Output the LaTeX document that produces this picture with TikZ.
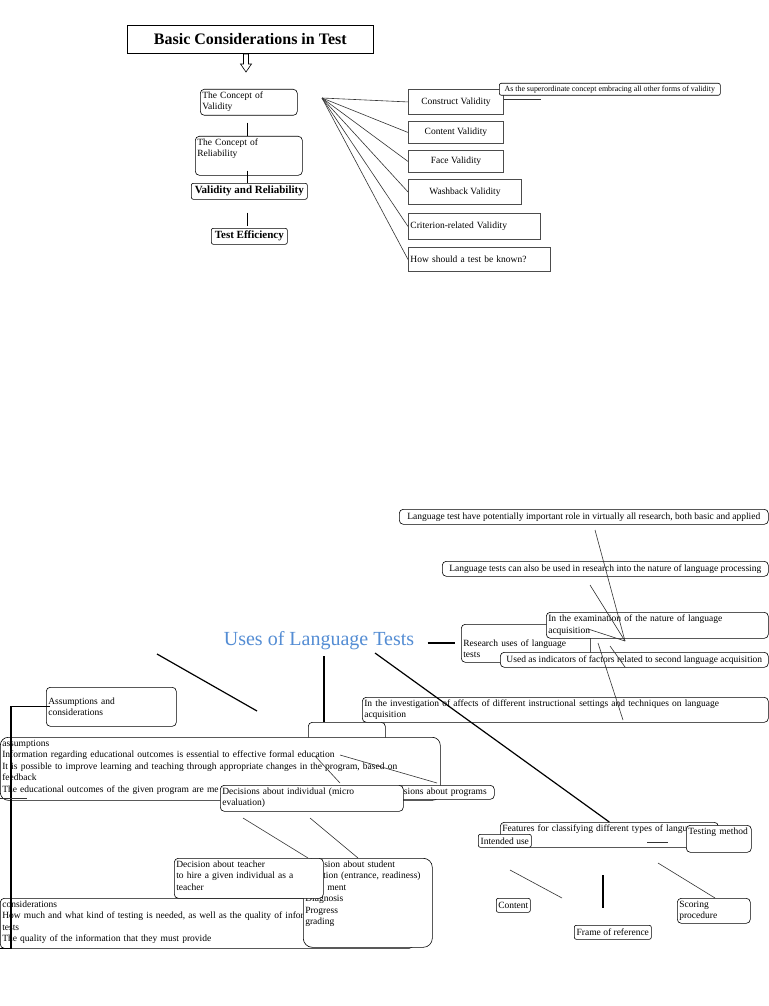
\documentclass[tikz,border=0pt]{standalone}
\usepackage{fontspec}
\setmainfont{Liberation Serif}
\usetikzlibrary{positioning}
\definecolor{usesblue}{RGB}{84,141,212}

\begin{document}
\begin{tikzpicture}[
    x=1pt, y=-1pt,
    every node/.style={font=\fontsize{9.5}{11.5}\selectfont},
    box/.style={draw, fill=white, inner sep=2pt, anchor=north west,
                align=left, line width=0.6pt},
    rbox/.style={box, rounded corners=4pt},
    vbox/.style={box, draw=black!70, line width=0.9pt, align=center},
    bbox/.style={rbox, rounded corners=2pt, inner sep=1pt, align=center,
                 font=\bfseries\fontsize{11}{13}\selectfont},
    topalign/.style={text height=7pt, text depth=#1},
    link/.style={line width=0.6pt, draw=black!80},
    heavy/.style={line width=1.2pt},
]
\path[use as bounding box, fill=white] (0,0) rectangle (768,1006);

% basic considerations
\node[box, minimum width=246pt, minimum height=28pt,
      font=\bfseries\fontsize{16}{18}\selectfont] (title) at (127,25) {Basic Considerations in Test};
\coordinate (arrtop) at (246,54);
\draw[line width=0.6pt] (arrtop) ++(-2.5,0) -- ++(0,10) -- ++(-3,0) -- ++(5.5,8)
    -- ++(5.5,-8) -- ++(-3,0) -- ++(0,-10) -- cycle;

\node[rbox, text width=93pt, topalign=15pt] (validity) at (200,89) {The Concept of\\Validity};
\node[rbox, text width=103pt, topalign=28pt] (reliab) at (195,136) {The Concept of\\Reliability};
\node[bbox, minimum width=116pt, minimum height=16pt] (vr) at (191,183) {Validity and Reliability};
\node[bbox, minimum width=76pt, minimum height=16pt] (eff) at (211,228) {Test Efficiency};

\draw[heavy] ([xshift=-1.5pt, yshift=-7pt]validity.south) -- ([xshift=-1.5pt]reliab.north);
\draw[heavy] ([xshift=-1.5pt, yshift=5pt]reliab.south) -- ([xshift=-2pt]vr.north);
\draw[heavy] ([xshift=-2pt, yshift=-13pt]vr.south) -- ([xshift=-2pt, yshift=2pt]eff.north);

% forms of validity
\coordinate (fan) at (322,98);
\node[vbox, minimum width=95pt, minimum height=25pt] (cv) at (408,89) {Construct Validity};
\node[vbox, minimum width=95pt, minimum height=22pt] (cnt) at (408,121) {Content Validity};
\node[vbox, minimum width=95pt, minimum height=22pt] (face) at (408,150) {Face Validity};
\node[vbox, minimum width=113pt, minimum height=25pt] (wash) at (408,179) {Washback Validity};
\node[vbox, align=left, text width=128pt, minimum height=26pt] (crit) at (408,213) {Criterion-related Validity};
\node[vbox, align=left, text width=138pt, minimum height=24pt] (how) at (408,247) {How should a test be known?};
\node[rbox, rounded corners=2pt, inner sep=1pt, minimum width=221pt, minimum height=12pt,
      font=\fontsize{7.9}{9}\selectfont] (super) at (499,83) {As the superordinate concept embracing all other forms of validity};

\foreach \v in {cv, cnt, face, wash, crit, how}
    \draw[link] (fan) -- (\v.west);
\draw[link] ([yshift=3pt]cv.east) -- ++(37,0);

% research uses
\node[rbox, minimum width=369pt, minimum height=15pt] (lt1) at (399,509)
    {Language test have potentially important role in virtually all research, both basic and applied};
\node[rbox, minimum width=326pt, minimum height=15pt] (lt2) at (442,561)
    {Language tests can also be used in research into the nature of language processing};
\node[rbox, text width=125pt, text height=20pt, text depth=14pt] (research) at (461,624) {Research uses of language\\tests};
\node[rbox, text width=218pt, minimum height=26pt] (exam) at (546,612)
    {In the examination of the nature of language\\acquisition};
\node[rbox, minimum width=268pt, minimum height=15pt] (used) at (500,652)
    {Used as indicators of factors related to second language acquisition};
\node[rbox, text width=402pt, minimum height=25pt] (invest) at (362,697)
    {In the investigation of affects of different instructional settings and techniques on language\\acquisition};

\node[text=usesblue, font=\fontsize{20}{22}\selectfont] (uses) at (319,641) {Uses of Language Tests};
\draw[heavy] ([xshift=10pt]uses.east |- 0,643) -- ([xshift=-6pt]research.west |- 0,643);

\coordinate (hub) at (625,641);
\coordinate (r1) at (595,530);
\coordinate (r2) at (590,585);
\coordinate (r3) at (588,629);
\coordinate (r4a) at (610,646);
\coordinate (r4b) at (625,667);
\coordinate (r5a) at (598,643);
\coordinate (r5b) at (623,720);
\foreach \p in {r1, r2, r3}
    \draw[link] (\p) -- (hub);
\draw[link] (r4a) -- (r4b);
\draw[link] (r5a) -- (r5b);

% evaluation
\node[rbox, text width=73pt, minimum height=40pt] (hidden) at (308,722) {};
\coordinate (vtop) at (324,656);
\draw[heavy] (vtop) -- (vtop |- hidden.north);
\coordinate (u1) at (157,654);
\coordinate (u2) at (257,711);
\draw[heavy] (u1) -- (u2);

\node[rbox, text width=126pt, minimum height=39pt] (ac) at (46,687) {Assumptions and\\considerations};
\node[rbox, rounded corners=8pt, text width=436pt, topalign=52pt] (bigA) at (0,737)
    {assumptions\\
     Information regarding educational outcomes is essential to effective formal education\\
     It is possible to improve learning and teaching through appropriate changes in the program, based on\\
     feedback\\
     The educational outcomes of the given program are me};
\node[rbox, text width=94pt, minimum height=14pt, inner sep=2pt] (prog) at (396,785) {\hspace*{3pt}isions about programs};
\node[rbox, text width=179pt, topalign=15pt] (indiv) at (220,785) {Decisions about individual (micro\\evaluation)};

\coordinate (a1) at (315,756);
\coordinate (a2) at (340,783);
\coordinate (a3) at (340,755);
\coordinate (a4) at (437,783);
\draw[link] (a1) -- (a2);
\draw[link] (a3) -- (a4);

\node[rbox, text width=409pt, topalign=39pt] (cons) at (0,898)
    {considerations\\
     How much and what kind of testing is needed, as well as the quality of infor\\
     tests\\
     The quality of the information that they must provide};
\node[rbox, rounded corners=9pt, text width=125pt, topalign=78pt] (student) at (303,858)
    {\hspace*{19pt}sion about student\\
     \hspace*{18pt}tion (entrance, readiness)\\
     \hspace*{22pt}ment\\
     Diagnosis\\
     Progress\\
     grading};
\node[rbox, text width=145pt, topalign=29pt] (teacher) at (174,858)
    {Decision about teacher\\to hire a given individual as a\\teacher};

\coordinate (d1) at (243,818);
\coordinate (d2) at (308,858);
\coordinate (d3) at (310,818);
\coordinate (d4) at (358,858);
\draw[link] (d1) -- (d2);
\draw[link] (d3) -- (d4);

\draw[heavy] ([xshift=4pt]ac.west) -| ([xshift=11pt]cons.south west) -- (cons.south west);
\draw[link] ([yshift=2pt]bigA.south west) -- ++(27,0);

% classifying features
\coordinate (diag) at (375,653);
\node[rbox, text width=214pt, topalign=14pt] (feat) at (500,822) {Features for classifying different types of langu};
\draw[heavy] (diag) -- (feat.north);
\node[rbox, rounded corners=2pt, inner sep=1pt, minimum width=53pt, minimum height=13pt] (intended) at (478,834) {Intended use};
\node[rbox, text width=61pt, topalign=16pt] (testing) at (686,825) {Testing method};
\node[rbox, rounded corners=2pt, inner sep=1pt, minimum width=34pt, minimum height=14pt] (content) at (496,898) {Content};
\node[rbox, rounded corners=2pt, inner sep=1pt, minimum width=77pt, minimum height=14pt] (frame) at (574,925) {Frame of reference};
\node[rbox, text width=69pt, topalign=14pt] (scoring) at (677,898) {Scoring\\procedure};

\coordinate (t1) at (647,842);
\coordinate (t2) at (668,842);
\coordinate (f1) at (510,870);
\coordinate (f2) at (562,898);
\coordinate (f3) at (603,875);
\coordinate (f4) at (603,908);
\coordinate (f5) at (658,863);
\coordinate (f6) at (715,898);
\draw[link] (t1) -- (t2);
\draw[link] (f1) -- (f2);
\draw[heavy] (f3) -- (f4);
\draw[link] (f5) -- (f6);

\end{tikzpicture}
\end{document}
